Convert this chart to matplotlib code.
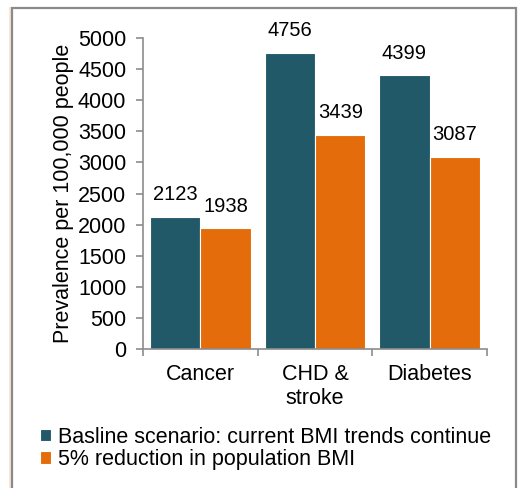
import matplotlib
matplotlib.use("Agg")
import matplotlib.pyplot as plt
from matplotlib.lines import Line2D
import numpy as np

plt.rcParams["font.family"] = ["Liberation Sans", "DejaVu Sans"]

categories = ["Cancer", "CHD &\nstroke", "Diabetes"]
baseline = [2123, 4756, 4399]
reduced = [1938, 3439, 3087]
series_names = [
    "Basline scenario: current BMI trends continue",
    "5% reduction in population BMI",
]
yticks = [0, 500, 1000, 1500, 2000, 2500, 3000, 3500, 4000, 4500, 5000]

BLUE = "#225968"
ORANGE = "#E46C0A"
AXIS_GREY = "#8C8C8C"

W, H = 518, 488
fig = plt.figure(figsize=(W / 100, H / 100), dpi=100)
fig.patch.set_facecolor("white")

ax = fig.add_axes([143 / W, 1 - 349 / H, (487 - 143) / W, (349 - 38) / H])

x = np.arange(len(categories))
bw = 0.44
b1 = ax.bar(x - bw / 2, baseline, bw, color=BLUE, edgecolor="white",
            linewidth=0.8, label=series_names[0])
b2 = ax.bar(x + bw / 2, reduced, bw, color=ORANGE, edgecolor="white",
            linewidth=0.8, label=series_names[1])

# value labels above each bar
for bars, vals in ((b1, baseline), (b2, reduced)):
    for rect, v in zip(bars, vals):
        ax.annotate(str(v), (rect.get_x() + rect.get_width() / 2, v),
                    xytext=(0, 16), textcoords="offset points",
                    ha="center", va="center", fontsize=14.5, color="black")

ax.set_xlim(-0.5, len(categories) - 0.5)
ax.set_ylim(0, 5000)
ax.set_yticks(yticks)
ax.set_yticklabels([str(t) for t in yticks], fontsize=15.5)
ax.set_xticks(x)
ax.set_xticklabels(categories, fontsize=15.5, linespacing=1.15)
ax.set_xticks(np.arange(-0.5, len(categories)), minor=True)
ax.tick_params(axis="x", which="major", length=0, pad=11)
ax.tick_params(axis="x", which="minor", length=5, width=1.2, color=AXIS_GREY)
ax.tick_params(axis="y", length=5, width=1.2, color=AXIS_GREY, pad=7)
for side in ("top", "right"):
    ax.spines[side].set_visible(False)
for side in ("left", "bottom"):
    ax.spines[side].set_color(AXIS_GREY)
    ax.spines[side].set_linewidth(1.2)

ax.set_ylabel("Prevalence per 100,000 people", fontsize=15.5, labelpad=3)

fig.legend(loc="upper left", bbox_to_anchor=(40 / W, 1 - 427 / H),
           frameon=False, fontsize=15.5, handlelength=0.5, handleheight=0.5,
           handletextpad=0.35, labelspacing=0.05, borderaxespad=0, borderpad=0)

# outer frame of the chart area
def px_line(xs, ys, **kw):
    fig.add_artist(Line2D([v / W for v in xs], [1 - v / H for v in ys],
                          transform=fig.transFigure, **kw))

px_line([9.5, 9.5], [8, H], color="#FCE6D4", linewidth=2.2)
px_line([11.5, 11.5, 516, 516], [H, 7.5, 7.5, H], color="#8A8A8A",
        linewidth=1.6, solid_joinstyle="miter")

fig.savefig("out.png", dpi=100)
